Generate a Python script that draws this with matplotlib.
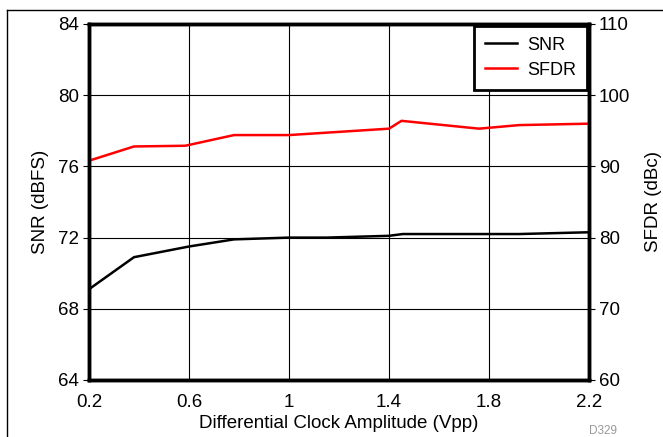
import matplotlib
matplotlib.use("Agg")
import matplotlib.pyplot as plt
from matplotlib.lines import Line2D

plt.rcParams['font.family'] = ['Liberation Sans', 'DejaVu Sans']

# data
amp_snr = [0.2, 0.38, 0.6, 0.78, 1.0, 1.15, 1.4, 1.455, 1.92, 2.2]
snr = [69.1, 70.9, 71.5, 71.9, 72.0, 72.0, 72.1, 72.2, 72.2, 72.3]
amp_sfdr = [0.2, 0.38, 0.585, 0.78, 1.0, 1.4, 1.45, 1.76, 1.92, 2.2]
sfdr = [90.8, 92.8, 92.9, 94.4, 94.4, 95.3, 96.4, 95.3, 95.8, 96.0]

xticks = [0.2, 0.6, 1.0, 1.4, 1.8, 2.2]
xticklabels = ['0.2', '0.6', '1', '1.4', '1.8', '2.2']
snr_ticks = [64, 68, 72, 76, 80, 84]
sfdr_ticks = [60, 70, 80, 90, 100, 110]

fs = 13.5

fig = plt.figure(figsize=(6.63, 4.37), dpi=100)
ax = fig.add_axes([89 / 663, 1 - 380 / 437, 500 / 663, 356 / 437])
ax2 = ax.twinx()

l1, = ax.plot(amp_snr, snr, color='black', lw=1.8, label='SNR')
l2, = ax2.plot(amp_sfdr, sfdr, color='red', lw=1.8, label='SFDR')

ax.set_xlim(0.2, 2.2)
ax.set_ylim(64, 84)
ax2.set_ylim(60, 110)
ax.set_xticks(xticks)
ax.set_xticklabels(xticklabels)
ax.set_yticks(snr_ticks)
ax2.set_yticks(sfdr_ticks)
ax.grid(True, color='black', lw=0.8)

for a in (ax, ax2):
    for s in a.spines.values():
        s.set_linewidth(2.5)
    a.tick_params(labelsize=fs, length=4, width=0.8, pad=3)
ax.tick_params(axis='x', length=0, pad=10)

ax.set_xlabel('Differential Clock Amplitude (Vpp)', fontsize=fs, labelpad=3)
ax.set_ylabel('SNR (dBFS)', fontsize=fs, labelpad=7)
ax2.set_ylabel('SFDR (dBc)', fontsize=fs, labelpad=11)

leg = ax2.legend(handles=[l1, l2], loc='upper right', fontsize=13,
                 fancybox=False, framealpha=1, borderaxespad=0.1,
                 handlelength=1.8, handletextpad=0.55, borderpad=0.6,
                 labelspacing=0.45)
leg.get_frame().set_edgecolor('black')
leg.get_frame().set_linewidth(2)

# outer frame pieces
fig.add_artist(Line2D([7 / 663, 7 / 663], [0, 1 - 9.5 / 437], color='black', lw=1))
fig.add_artist(Line2D([7 / 663, 1], [1 - 9.5 / 437, 1 - 9.5 / 437], color='black', lw=1))

fig.text(617 / 663, 1 - 431 / 437, 'D329', color='#999999', fontsize=8.5,
         ha='right', va='center')

fig.savefig('out.png', dpi=100)
